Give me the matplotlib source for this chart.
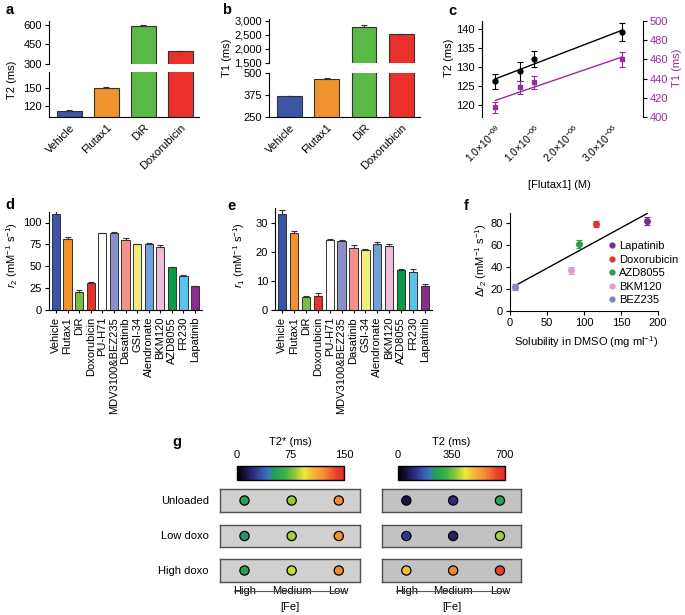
import numpy as np
import matplotlib
matplotlib.use('Agg')
import matplotlib.pyplot as plt
from matplotlib.colors import LinearSegmentedColormap, Normalize
from matplotlib.cm import ScalarMappable

plt.rcParams['font.family'] = ['Liberation Sans', 'DejaVu Sans']
plt.rcParams['font.size'] = 8
plt.rcParams['axes.linewidth'] = 0.8
plt.rcParams['mathtext.fontset'] = 'custom'
plt.rcParams['mathtext.rm'] = 'Liberation Sans'
plt.rcParams['mathtext.it'] = 'Liberation Sans:italic'

# ---- data ----
ab_labels = ['Vehicle', 'Flutax1', 'DiR', 'Doxorubicin']
ab_colors = ['#3c55a5', '#f0932f', '#5ab947', '#e9302a']
t2_vals = [112, 151, 593, 396]
t2_err = [2, 1.5, 4, 3]
t1_vals = [371, 466, 2800, 2520]
t1_err = [1, 6, 60, 15]

flutax_conc = [1e-8, 0.65e-6, 1.0e-6, 3.25e-6]
flutax_ticks = [1e-8, 1e-6, 2e-6, 3e-6]
flutax_ticklabels = ['1.0×10$^{-08}$', '1.0×10$^{-06}$', '2.0×10$^{-06}$', '3.0×10$^{-06}$']
c_t2 = [126.2, 128.9, 132.2, 139.3]
c_t2_err = [2.0, 2.5, 2.1, 2.4]
c_t1 = [410, 431, 436, 460]
c_t1_err = [6, 7, 7, 8]

drugs = ['Vehicle', 'Flutax1', 'DiR', 'Doxorubicin', 'PU-H71', 'MDV3100&BEZ235',
         'Dasatinib', 'GSI-34', 'Alendronate', 'BKM120', 'AZD8055', 'FR230', 'Lapatinib']
drug_colors = ['#3a55a4', '#f0922e', '#7dbb42', '#e8312a', '#ffffff', '#8b8fc8',
               '#f4928a', '#f2ec7c', '#6fa3d8', '#efbcd9', '#0c9a4a', '#5cc3ec', '#8a2d8c']
r2_vals = [110, 81.5, 20.5, 31, 88, 88, 80.5, 75, 75, 72.5, 49, 38.5, 27.5]
r2_err = [3, 2.5, 2.5, 1.2, 0.5, 1.2, 1.5, 1, 1.5, 1.5, 0.5, 1.5, 0.5]
r1_vals = [33, 26.5, 4.4, 4.9, 24, 23.8, 21.4, 20.5, 22.6, 21.9, 13.7, 13.2, 8.4]
r1_err = [1.3, 0.5, 0.4, 1.0, 0.5, 0.3, 0.8, 0.3, 0.6, 0.6, 0.3, 0.9, 0.6]

sol_drugs = ['Lapatinib', 'Doxorubicin', 'AZD8055', 'BKM120', 'BEZ235']
sol_colors = ['#7b2d8e', '#e8312a', '#2e9e48', '#e39bd0', '#8185c4']
sol_x = [185.5, 115.8, 93.7, 82.4, 6.8]
sol_y = [82, 78.8, 60.6, 37, 21.8]
sol_err = [3.5, 2.5, 3.5, 3, 2.5]

fe_levels = ['High', 'Medium', 'Low']
doxo_rows = ['Unloaded', 'Low doxo', 'High doxo']
t2star_vals = [[54, 82, 123], [50, 84, 120], [55, 89, 122]]
t2map_vals = [[60, 105, 260], [125, 85, 390], [490, 575, 650]]

# ---- figure ----
W, H = 685, 615
fig = plt.figure(figsize=(W / 100, H / 100), dpi=100)
edge = '#333333'


def add_ax(x0, y0, x1, y1):
    # pixel box -> figure fraction
    return fig.add_axes([x0 / W, 1 - y1 / H, (x1 - x0) / W, (y1 - y0) / H])


def prism(ax):
    ax.spines['top'].set_visible(False)
    ax.spines['right'].set_visible(False)
    ax.tick_params(length=3, width=0.8, pad=2, labelsize=8)


def ftext(x, y, s, **kw):
    fig.text(x / W, 1 - y / H, s, **kw)


def broken_bars(top_box, bot_box, vals, errs, top_lim, bot_lim, top_ticks, bot_ticks, fmt):
    a_top = add_ax(*top_box)
    a_bot = add_ax(*bot_box)
    x = np.arange(len(vals))
    for ax in (a_top, a_bot):
        ax.bar(x, vals, width=0.66, color=ab_colors, edgecolor=edge, linewidth=0.8)
        ax.errorbar(x, vals, yerr=[np.zeros(len(vals)), errs], fmt='none', ecolor=edge,
                    elinewidth=0.8, capsize=2.5, capthick=0.8)
        ax.set_xlim(-0.55, 3.5)
        prism(ax)
    a_top.set_ylim(*top_lim)
    a_bot.set_ylim(*bot_lim)
    a_top.spines['bottom'].set_visible(False)
    a_top.set_xticks([])
    a_top.set_yticks(top_ticks)
    a_bot.set_yticks(bot_ticks)
    a_top.yaxis.set_major_formatter(fmt)
    a_bot.yaxis.set_major_formatter(fmt)
    a_bot.set_xticks(x)
    a_bot.set_xticklabels(ab_labels, rotation=45, ha='right', rotation_mode='anchor')
    a_bot.tick_params(axis='x', length=0, pad=4)
    return a_top, a_bot


# panel a
broken_bars((49, 21, 199, 64), (49, 72, 199, 117), t2_vals, t2_err,
            (300, 630), (102, 177), [300, 450, 600], [120, 150], '{x:,.0f}')
ftext(12, 80, 'T2 (ms)', rotation=90, ha='center', va='center')

# panel b
broken_bars((269, 19, 420, 63), (269, 73, 420, 117), t1_vals, t1_err,
            (1500, 3070), (250, 500), [1500, 2000, 2500, 3000], [250, 375, 500], '{x:,.0f}')
ftext(227, 58, 'T1 (ms)', rotation=90, ha='center', va='center')

# panel c
purple = '#9b2a9b'
ax_c = add_ax(482, 21, 643, 117)
ax_c2 = ax_c.twinx()
for ax in (ax_c, ax_c2):
    ax.spines['top'].set_visible(False)
    ax.spines['bottom'].set_visible(False)
ax_c.spines['right'].set_visible(False)
ax_c.tick_params(length=3, width=0.8, pad=2, labelsize=8)
ax_c2.tick_params(length=3, width=0.8, pad=2, labelsize=8, labelcolor=purple)
ax_c.set_xlim(-0.33e-6, 3.79e-6)
ax_c.set_ylim(116.8, 142.1)
ax_c.spines['left'].set_bounds(119.4, 141.8)
ax_c2.set_ylim(400, 500)
ax_c.set_yticks([120, 125, 130, 135, 140])
ax_c2.set_yticks([400, 420, 440, 460, 480, 500])
xc = np.array(flutax_conc)
xl = np.array([xc.min(), xc.max()])
p = np.polyfit(xc, c_t2, 1)
ax_c.plot(xl, np.polyval(p, xl), color='black', lw=1)
ax_c.errorbar(xc, c_t2, yerr=c_t2_err, fmt='o', color='black', ms=3.5,
              elinewidth=0.8, capsize=2.5, capthick=0.8)
p = np.polyfit(xc, c_t1, 1)
ax_c2.plot(xl, np.polyval(p, xl), color=purple, lw=1)
ax_c2.errorbar(xc, c_t1, yerr=c_t1_err, fmt='s', color=purple, ms=3.5,
               elinewidth=0.8, capsize=2.5, capthick=0.8)
ax_c.set_xticks(flutax_ticks)
ax_c.set_xticklabels(flutax_ticklabels, rotation=45, ha='right', rotation_mode='anchor', fontsize=7.5)
ax_c.tick_params(axis='x', length=0, pad=4)
ftext(449, 58, 'T2 (ms)', rotation=90, ha='center', va='center')
ftext(677, 68, 'T1 (ms)', rotation=90, ha='center', va='center', color=purple)
ftext(559, 185, '[Flutax1] (M)', ha='center', va='center')


# panels d, e
def drug_bars(box, vals, errs, ylim, yticks):
    ax = add_ax(*box)
    x = np.arange(len(vals))
    ax.bar(x, vals, width=0.7, color=drug_colors, edgecolor=edge, linewidth=0.7)
    ax.errorbar(x, vals, yerr=[np.zeros(len(vals)), errs], fmt='none', ecolor=edge,
                elinewidth=0.8, capsize=2, capthick=0.8)
    ax.set_xlim(-0.6, 12.6)
    ax.set_ylim(*ylim)
    ax.set_yticks(yticks)
    ax.set_xticks(x)
    ax.set_xticklabels(drugs, rotation=90)
    prism(ax)
    ax.tick_params(axis='x', length=2, pad=3)
    return ax


drug_bars((49, 212, 202, 310), r2_vals, r2_err, (0, 112), [0, 25, 50, 75, 100])
ftext(12, 255, '$r_2$ (mM$^{-1}$ s$^{-1}$)', rotation=90, ha='center', va='center')
drug_bars((275, 208, 432, 310), r1_vals, r1_err, (0, 35), [0, 10, 20, 30])
ftext(239, 255, '$r_1$ (mM$^{-1}$ s$^{-1}$)', rotation=90, ha='center', va='center')

# panel f
ax_f = add_ax(510, 213, 658, 311)
prism(ax_f)
ax_f.set_xlim(0, 200)
ax_f.set_ylim(0, 89)
ax_f.set_xticks([0, 50, 100, 150, 200])
ax_f.set_yticks([0, 20, 40, 60, 80])
sx = np.array(sol_x)
p = np.polyfit(sx, sol_y, 1)
xl = np.array([sx.min(), sx.max()])
ax_f.plot(xl, np.polyval(p, xl), color='black', lw=1)
for name, col, xv, yv, ev in zip(sol_drugs, sol_colors, sol_x, sol_y, sol_err):
    ax_f.errorbar(xv, yv, yerr=ev, fmt='o', color=col, ms=4, elinewidth=0.8,
                  capsize=2.5, capthick=0.8, label=name)
handles = [plt.Line2D([], [], marker='o', ls='none', color=c, ms=3.5) for c in sol_colors]
ax_f.legend(handles, sol_drugs, loc='upper left', bbox_to_anchor=(609 / W, 1 - 241 / H),
            bbox_transform=fig.transFigure, frameon=False, fontsize=8, handlelength=0.6,
            handletextpad=0.3, borderpad=0, borderaxespad=0, labelspacing=0.32)
ftext(586, 342, 'Solubility in DMSO (mg ml$^{-1}$)', ha='center', va='center')
ftext(481, 260, 'Δ$r_2$ (mM$^{-1}$ s$^{-1}$)', rotation=90, ha='center', va='center')

# panel g
cmap = LinearSegmentedColormap.from_list('t2', [
    (0.0, '#000000'), (0.08, '#1a1040'), (0.15, '#2e2a7a'), (0.24, '#3a5ab0'),
    (0.3, '#3a7ab8'), (0.34, '#1f9e58'), (0.45, '#3cb04a'), (0.55, '#9cc83c'),
    (0.63, '#f2e83a'), (0.72, '#f6b03a'), (0.82, '#f28a30'), (0.93, '#e8402c'),
    (1.0, '#e42a2a')])


def map_panel(x0, x1, cb_x0, cb_x1, vmax, cticks, title, vals, face):
    norm = Normalize(0, vmax)
    cax = add_ax(cb_x0, 466, cb_x1, 480)
    cb = fig.colorbar(ScalarMappable(norm=norm, cmap=cmap), cax=cax, orientation='horizontal')
    cb.set_ticks(cticks)
    cax.xaxis.set_ticks_position('top')
    cax.tick_params(length=0, pad=4, labelsize=8)
    cb.outline.set_linewidth(1)
    cax.set_title(title, fontsize=8, pad=15)
    rows = [(489, 512), (525, 547), (559, 582)]
    axes = []
    for i, (y0, y1) in enumerate(rows):
        ax = add_ax(x0, y0, x1, y1)
        ax.set_facecolor(face)
        for s in ax.spines.values():
            s.set_color('#505050')
            s.set_linewidth(1)
        ax.scatter(np.arange(3), np.zeros(3), c=vals[i], cmap=cmap, norm=norm,
                   s=44, edgecolors='black', linewidths=0.9, zorder=3)
        ax.set_xlim(-0.52, 2.45)
        ax.set_ylim(-1, 1)
        ax.set_yticks([])
        ax.set_xticks([])
        axes.append(ax)
    bot = axes[-1]
    bot.set_xticks(np.arange(3))
    bot.set_xticklabels(fe_levels)
    bot.tick_params(axis='x', length=0, pad=3, labelsize=8)
    bot.plot([-0.22, 2.12], [-1.75, -1.75], color='#555555', lw=0.8, clip_on=False)
    bot.set_xlabel('[Fe]', labelpad=4, fontsize=8)
    return axes


left_axes = map_panel(220, 360, 237, 344, 150, [0, 75, 150], 'T2* (ms)', t2star_vals, '#d0d0d0')
map_panel(382, 521, 398, 505, 700, [0, 350, 700], 'T2 (ms)', t2map_vals, '#c2c2c2')
for ax, name in zip(left_axes, doxo_rows):
    ax.set_ylabel(name, rotation=0, ha='right', va='center', labelpad=8, fontsize=8)

# panel letters
for lab, (px, py) in zip('abcdefg', [(10, 10), (227, 10), (452, 11), (10, 205),
                                     (232, 206), (466, 206), (177, 442)]):
    ftext(px, py, lab, fontsize=10.5, fontweight='bold', ha='center', va='center')

fig.savefig('out.png', dpi=100)
